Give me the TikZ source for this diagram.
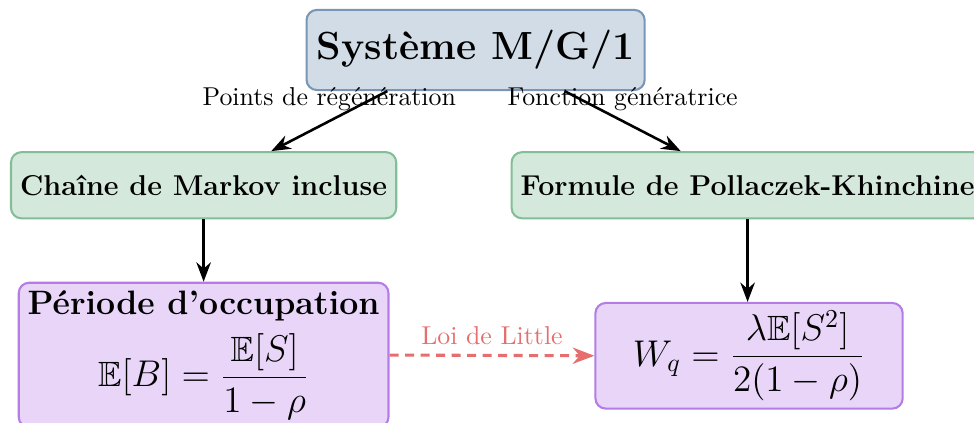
\documentclass[tikz,border=0pt]{standalone}
\usepackage{amsmath,amssymb}
\usetikzlibrary{arrows.meta,positioning,calc}
\definecolor{sysfill}{RGB}{209,220,230}
\definecolor{sysdraw}{RGB}{122,150,180}
\definecolor{grnfill}{RGB}{213,232,220}
\definecolor{grndraw}{RGB}{130,190,152}
\definecolor{purfill}{RGB}{232,213,248}
\definecolor{purdraw}{RGB}{180,125,230}
\definecolor{littlered}{RGB}{230,110,110}
\begin{document}
\begin{tikzpicture}[>=Stealth,
 box/.style={draw,thick,rounded corners=4pt,align=center,inner sep=3pt},
 sysbox/.style={box,fill=sysfill,draw=sysdraw,minimum width=4.6cm,minimum height=1.09cm,font=\fontsize{15.2}{18}\selectfont\bfseries},
 methbox/.style={box,fill=grnfill,draw=grndraw,minimum height=0.9cm,font=\fontsize{11.1}{13}\selectfont\bfseries},
 resbox/.style={box,fill=purfill,draw=purdraw,font=\fontsize{13.6}{16}\selectfont},
 link/.style={->,line width=1pt}]
\useasboundingbox (0,0) rectangle (13.25,-5.75);
\node[sysbox] (sys) at (6.47,-0.68) {Système M/G/1};
\node[methbox,minimum width=5.24cm] (markov) at (2.77,-2.52) {Chaîne de Markov incluse};
\node[methbox,minimum width=6.42cm] (pk) at (10.17,-2.52) {Formule de Pollaczek-Khinchine};
\node[resbox,minimum width=5.03cm,minimum height=1.9cm] (busy) at (2.77,-4.83)
 {{\fontsize{13.1}{16}\selectfont\bfseries Période d'occupation}\\[4pt] $\displaystyle\mathbb{E}[B]=\frac{\mathbb{E}[S]}{1-\rho}$};
\node[resbox,minimum width=4.18cm,minimum height=1.39cm] (wq) at (10.19,-4.84)
 {$\displaystyle W_q=\frac{\lambda\mathbb{E}[S^2]}{2(1-\rho)}$};
% arrows from the system box
\draw[link] ($(sys.south)+(-1.2,0)$) -- node[midway,above] {Points de régénération} ($(markov.north)+(0.92,0)$);
\draw[link] ($(sys.south)+(1.21,0)$) -- node[midway,above] {Fonction génératrice} ($(pk.north)+(-0.91,0)$);
\draw[link] (markov.south) -- (busy.north);
\draw[link] (pk.south) -- (pk.south |- wq.north);
\draw[->,line width=1.2pt,dash pattern=on 3.5pt off 2.5pt,littlered] (busy.east) -- node[above,text=littlered] {Loi de Little} (wq.west);
\end{tikzpicture}
\end{document}
